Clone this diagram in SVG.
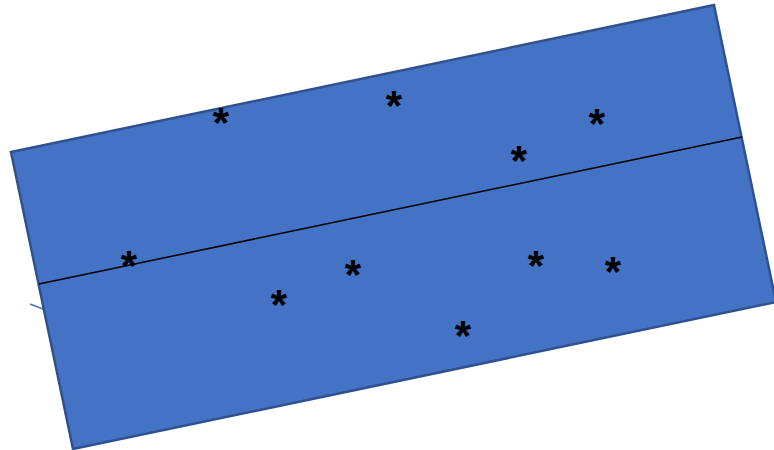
<svg xmlns="http://www.w3.org/2000/svg" width="774" height="450" viewBox="0 0 774 450">
<style>
.box{fill:#4472C4;stroke:#2F528F;stroke-width:2.5}
.star{font-family:"Liberation Sans",Arial,sans-serif;font-size:42px;font-weight:bold;fill:#000;text-anchor:middle}
</style>
<rect width="774" height="450" fill="#fff"/>
<g id="connectors">
<line x1="30" y1="304" x2="43" y2="309" stroke="#4472C4" stroke-width="1.5"/>
</g>
<g id="board">
<polygon class="box" points="11,152 714,5 776,302 73,449"/>
</g>
<g id="divider">
<line x1="39" y1="284" x2="742" y2="137" stroke="#000" stroke-width="1.5"/>
</g>
<g id="marks">
<text class="star" x="221" y="137">*</text>
<text class="star" x="394" y="120">*</text>
<text class="star" x="519" y="175">*</text>
<text class="star" x="597" y="138">*</text>
<text class="star" x="129" y="280">*</text>
<text class="star" x="353" y="289">*</text>
<text class="star" x="279" y="319">*</text>
<text class="star" x="463" y="350">*</text>
<text class="star" x="536" y="280">*</text>
<text class="star" x="613" y="286">*</text>
</g>
</svg>
